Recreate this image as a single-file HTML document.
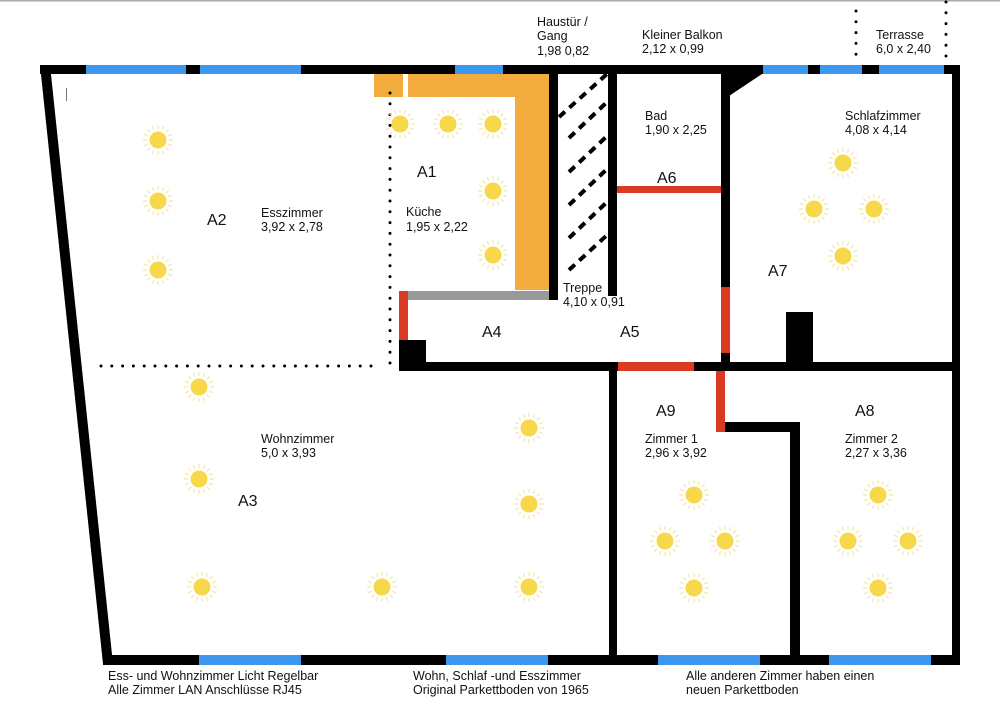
<!DOCTYPE html>
<html><head><meta charset="utf-8"><style>
html,body{margin:0;padding:0;background:#fff}
svg{display:block}
text{font-family:"Liberation Sans",sans-serif;fill:#111}
.s{font-size:12.5px}
.a{font-size:16px}
</style></head><body>
<svg width="1000" height="708" viewBox="0 0 1000 708" xmlns="http://www.w3.org/2000/svg">
<defs>
<g id="sun">
<g stroke="#f5e7a0" stroke-width="1.2">
<line x1="0" y1="-15" x2="0" y2="-11"/><line x1="0" y1="15" x2="0" y2="11"/>
<line x1="-15" y1="0" x2="-11" y2="0"/><line x1="15" y1="0" x2="11" y2="0"/>
<line x1="-10.6" y1="-10.6" x2="-7.8" y2="-7.8"/><line x1="10.6" y1="10.6" x2="7.8" y2="7.8"/>
<line x1="-10.6" y1="10.6" x2="-7.8" y2="7.8"/><line x1="10.6" y1="-10.6" x2="7.8" y2="-7.8"/>
<line x1="-5.7" y1="-13.9" x2="-4.2" y2="-10.2"/><line x1="5.7" y1="13.9" x2="4.2" y2="10.2"/>
<line x1="-13.9" y1="5.7" x2="-10.2" y2="4.2"/><line x1="13.9" y1="-5.7" x2="10.2" y2="-4.2"/>
<line x1="5.7" y1="-13.9" x2="4.2" y2="-10.2"/><line x1="-5.7" y1="13.9" x2="-4.2" y2="10.2"/>
<line x1="13.9" y1="5.7" x2="10.2" y2="4.2"/><line x1="-13.9" y1="-5.7" x2="-10.2" y2="-4.2"/>
</g>
<circle r="8.5" fill="#f7d84a"/>
</g>
</defs>
<rect x="0" y="0" width="1000" height="1.5" fill="#aaa"/>

<!-- orange kitchen -->
<rect x="374" y="74" width="29" height="23" fill="#f2ac3e"/>
<rect x="408" y="74" width="141" height="23" fill="#f2ac3e"/>
<rect x="515" y="74" width="34" height="216" fill="#f2ac3e"/>
<rect x="408" y="291" width="141" height="9" fill="#999"/>

<!-- outer walls -->
<rect x="40" y="65" width="920" height="9" fill="#000"/>
<polygon points="40,65 50,65 113,664 103,664" fill="#000"/>
<rect x="103" y="655" width="857" height="10" fill="#000"/>
<rect x="952" y="65" width="8" height="600" fill="#000"/>

<!-- windows top -->
<g fill="#3d97ee">
<rect x="86" y="65" width="100" height="9"/>
<rect x="200" y="65" width="101" height="9"/>
<rect x="455" y="65" width="48" height="9"/>
<rect x="763" y="65" width="45" height="9"/>
<rect x="820" y="65" width="42" height="9"/>
<rect x="879" y="65" width="65" height="9"/>
<rect x="199" y="655" width="102" height="10"/>
<rect x="446" y="655" width="102" height="10"/>
<rect x="658" y="655" width="102" height="10"/>
<rect x="829" y="655" width="102" height="10"/>
</g>

<!-- interior walls -->
<g fill="#000">
<rect x="549" y="74" width="9" height="226"/>
<rect x="608" y="74" width="9" height="222"/>
<rect x="721" y="74" width="9" height="214"/>
<polygon points="729,74 762,74 729,96"/>
<rect x="721" y="353" width="9" height="10"/>
<rect x="399" y="340" width="27" height="30"/>
<rect x="399" y="362" width="561" height="9"/>
<rect x="609" y="362" width="8" height="296"/>
<rect x="716" y="422" width="84" height="10"/>
<rect x="790" y="422" width="10" height="236"/>
<rect x="786" y="312" width="27" height="52"/>
</g>
<g fill="#db3a22">
<rect x="399" y="291" width="9" height="49"/>
<rect x="617" y="186" width="104" height="7"/>
<rect x="721" y="287" width="9" height="66"/>
<rect x="618" y="362" width="76" height="9"/>
<rect x="716" y="371" width="9" height="61"/>
</g>

<!-- stair dashes -->
<g stroke="#000" stroke-width="4" stroke-dasharray="8,6">
<line x1="559" y1="117" x2="607" y2="74"/>
<line x1="569" y1="138" x2="606" y2="103"/>
<line x1="569" y1="172" x2="606" y2="137"/>
<line x1="569" y1="205" x2="606" y2="170"/>
<line x1="569" y1="238" x2="606" y2="203"/>
<line x1="569" y1="270" x2="606" y2="236"/>
</g>

<!-- dotted lines -->
<g stroke="#000" stroke-width="3" stroke-linecap="round" stroke-dasharray="0,10.8">
<line x1="390" y1="93" x2="390" y2="366"/>
<line x1="101" y1="366" x2="380" y2="366"/>
<line x1="856" y1="11" x2="856" y2="55"/>
<line x1="946" y1="2" x2="946" y2="58"/>
</g>
<rect x="66" y="88" width="1" height="13" fill="#777"/>

<!-- suns -->
<use href="#sun" x="158" y="140"/><use href="#sun" x="158" y="201"/><use href="#sun" x="158" y="270"/>
<use href="#sun" x="400" y="124"/><use href="#sun" x="448" y="124"/><use href="#sun" x="493" y="124"/>
<use href="#sun" x="493" y="191"/><use href="#sun" x="493" y="255"/>
<use href="#sun" x="843" y="163"/><use href="#sun" x="814" y="209"/><use href="#sun" x="874" y="209"/><use href="#sun" x="843" y="256"/>
<use href="#sun" x="199" y="387"/><use href="#sun" x="199" y="479"/><use href="#sun" x="202" y="587"/>
<use href="#sun" x="382" y="587"/><use href="#sun" x="529" y="428"/><use href="#sun" x="529" y="504"/><use href="#sun" x="529" y="587"/>
<use href="#sun" x="694" y="495"/><use href="#sun" x="665" y="541"/><use href="#sun" x="725" y="541"/><use href="#sun" x="694" y="588"/>
<use href="#sun" x="878" y="495"/><use href="#sun" x="848" y="541"/><use href="#sun" x="908" y="541"/><use href="#sun" x="878" y="588"/>

<!-- labels -->
<text class="s" x="537" y="26">Haustür /</text>
<text class="s" x="537" y="40">Gang</text>
<text class="s" x="537" y="55">1,98 0,82</text>
<text class="s" x="642" y="39">Kleiner Balkon</text>
<text class="s" x="642" y="53">2,12 x 0,99</text>
<text class="s" x="876" y="39">Terrasse</text>
<text class="s" x="876" y="53">6,0 x 2,40</text>
<text class="a" x="207" y="225">A2</text>
<text class="s" x="261" y="217">Esszimmer</text>
<text class="s" x="261" y="231">3,92 x 2,78</text>
<text class="a" x="417" y="177">A1</text>
<text class="s" x="406" y="216">Küche</text>
<text class="s" x="406" y="231">1,95 x 2,22</text>
<text class="s" x="563" y="292">Treppe</text>
<text class="s" x="563" y="306">4,10 x 0,91</text>
<text class="a" x="482" y="337">A4</text>
<text class="a" x="620" y="337">A5</text>
<text class="s" x="645" y="120">Bad</text>
<text class="s" x="645" y="134">1,90 x 2,25</text>
<text class="a" x="657" y="183">A6</text>
<text class="s" x="845" y="120">Schlafzimmer</text>
<text class="s" x="845" y="134">4,08 x 4,14</text>
<text class="a" x="768" y="276">A7</text>
<text class="a" x="656" y="416">A9</text>
<text class="a" x="855" y="416">A8</text>
<text class="s" x="645" y="443">Zimmer 1</text>
<text class="s" x="645" y="457">2,96 x 3,92</text>
<text class="s" x="845" y="443">Zimmer 2</text>
<text class="s" x="845" y="457">2,27 x 3,36</text>
<text class="s" x="261" y="443">Wohnzimmer</text>
<text class="s" x="261" y="457">5,0 x 3,93</text>
<text class="a" x="238" y="506">A3</text>
<text class="s" x="108" y="680">Ess- und Wohnzimmer Licht Regelbar</text>
<text class="s" x="108" y="694">Alle Zimmer LAN Anschlüsse RJ45</text>
<text class="s" x="413" y="680">Wohn, Schlaf -und Esszimmer</text>
<text class="s" x="413" y="694">Original Parkettboden von 1965</text>
<text class="s" x="686" y="680">Alle anderen Zimmer haben einen</text>
<text class="s" x="686" y="694">neuen Parkettboden</text>
</svg>
</body></html>
